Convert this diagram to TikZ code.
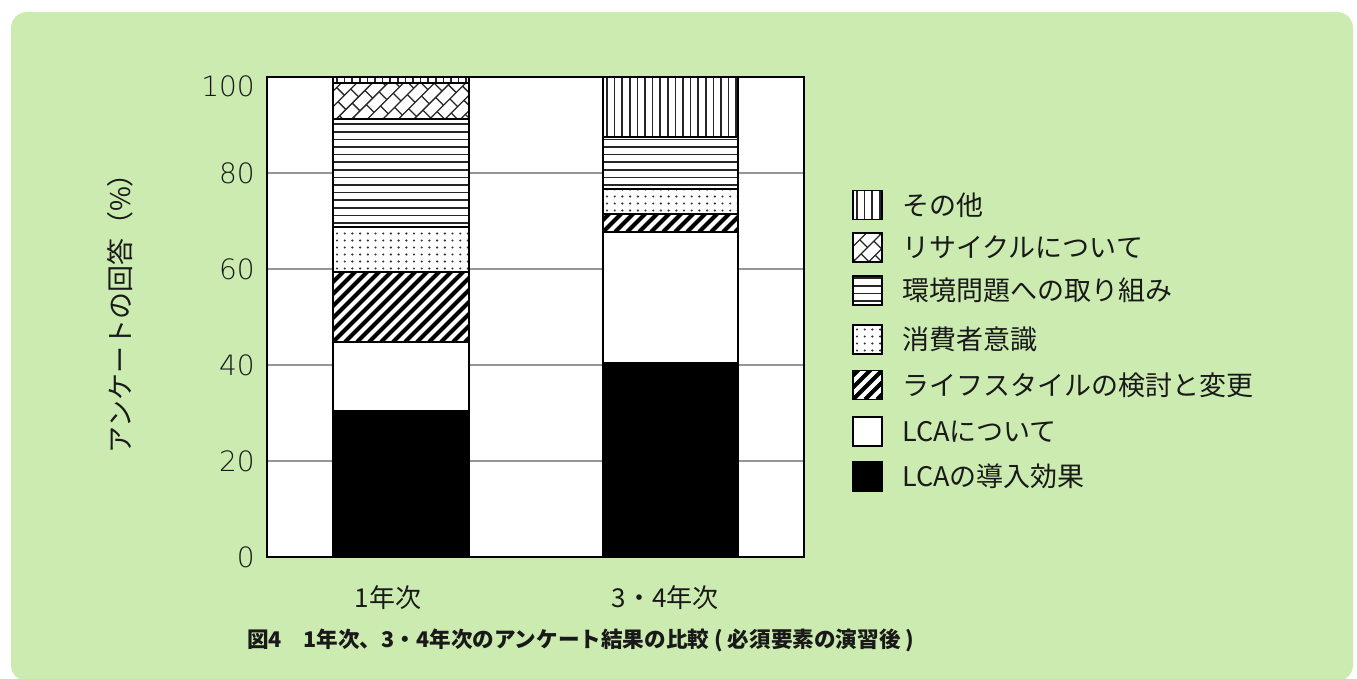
\documentclass[tikz,border=0pt]{standalone}
\usepackage{fontspec}
\setmainfont{Noto Sans CJK JP}
\newfontfamily\tickfont{DejaVu Sans ExtraLight}
\definecolor{bggreen}{RGB}{204,235,177}
\definecolor{txt}{RGB}{25,25,25}
\definecolor{gridgray}{RGB}{150,150,150}
\tikzset{
  segborder/.style={draw=black,line width=1.4pt},
  patline/.style={draw=black!85,line width=1.7pt},
  stripeline/.style={draw=black,line width=4pt},
  brickline/.style={draw=black!85,line width=1.3pt},
  dotcol/.style={fill=black!80},
  gridline/.style={draw=gridgray,line width=1.5pt},
  ticklab/.style={anchor=east,inner sep=0pt,text=txt,font=\tickfont\fontsize{28pt}{30pt}\selectfont},
  leglab/.style={anchor=west,inner sep=0pt,text=txt,font=\fontsize{27pt}{30pt}\selectfont},
  catlab/.style={inner sep=0pt,text=txt,font=\fontsize{26pt}{28pt}\selectfont},
  axtitle/.style={inner sep=0pt,text=txt,font=\fontsize{27pt}{30pt}\selectfont},
  caplab/.style={anchor=west,inner sep=0pt,text=txt,font=\bfseries\fontsize{21.6pt}{24pt}\selectfont}
}
\newcommand\segwhite[4]{\draw[segborder,fill=white] (#1,#2) rectangle (#3,#4);}
\newcommand\segblack[4]{\draw[segborder,fill=black] (#1,#2) rectangle (#3,#4);}
\newcommand\segvl[4]{%
  \fill[white] (#1,#2) rectangle (#3,#4);
  \begin{scope}
    \clip (#1,#2) rectangle (#3,#4);
    \foreach \i in {0,...,40} \draw[patline] ({#1+4+7.6*\i},#2) -- ({#1+4+7.6*\i},#4);
  \end{scope}
  \draw[segborder] (#1,#2) rectangle (#3,#4);}
\newcommand\seghl[4]{%
  \fill[white] (#1,#2) rectangle (#3,#4);
  \begin{scope}
    \clip (#1,#2) rectangle (#3,#4);
    \foreach \i in {0,...,40} \draw[patline] (#1,{#2+4+7.6*\i}) -- (#3,{#2+4+7.6*\i});
  \end{scope}
  \draw[segborder] (#1,#2) rectangle (#3,#4);}
\newcommand\segdots[4]{%
  \fill[white] (#1,#2) rectangle (#3,#4);
  \begin{scope}
    \clip (#1,#2) rectangle (#3,#4);
    \foreach \i in {0,...,18} \foreach \j in {0,...,16} \fill[dotcol] ({#1+4+7.7*\i},{#2+3.5+7.0*\j}) circle (1.2);
  \end{scope}
  \draw[segborder] (#1,#2) rectangle (#3,#4);}
\newcommand\segstripe[4]{%
  \fill[white] (#1,#2) rectangle (#3,#4);
  \begin{scope}
    \clip (#1,#2) rectangle (#3,#4);
    \foreach \i in {-25,...,15} \draw[stripeline] ({#1+12*\i},#2) -- ++(300,300);
  \end{scope}
  \draw[segborder] (#1,#2) rectangle (#3,#4);}
\newcommand\segbrick[4]{%
  \fill[white] (#1,#2) rectangle (#3,#4);
  \begin{scope}
    \clip (#1,#2) rectangle (#3,#4);
    \begin{scope}[shift={({(#1+#3)/2},{(#2+#4)/2})},rotate=45]
      \foreach \k in {-9,...,9}{
        \draw[brickline] (-110,{11*\k}) -- (110,{11*\k});
        \foreach \m in {-7,...,7}{
          \pgfmathsetmacro\uu{18*\m+9*mod(\k+20,2)}
          \draw[brickline] (\uu,{11*\k}) -- (\uu,{11*\k+11});
        }}
    \end{scope}
  \end{scope}
  \draw[segborder] (#1,#2) rectangle (#3,#4);}
\begin{document}
\begin{tikzpicture}[x=1pt,y=1pt]
  \useasboundingbox (0,0) rectangle (1357,678);
  \fill[white] (0,0) rectangle (1357,678);
  \fill[bggreen,rounded corners=16pt] (11,-3) rectangle (1353,666);
  % plot area
  \fill[white] (267,121) rectangle (804,601);
  \foreach \yy in {217,313,409,505} \draw[gridline] (267,\yy) -- (804,\yy);
  % bar 1
  \segblack{333}{121}{469}{267}
  \segwhite{333}{267}{469}{336}
  \segstripe{333}{336}{469}{406}
  \segdots{333}{406}{469}{451}
  \seghl{333}{451}{469}{559}
  \segbrick{333}{559}{469}{595}
  \segvl{333}{595}{469}{601}
  % bar 2
  \segblack{603}{121}{738}{315}
  \segwhite{603}{315}{738}{446}
  \segstripe{603}{446}{738}{464}
  \segdots{603}{464}{738}{489}
  \seghl{603}{489}{738}{541}
  \segvl{603}{541}{738}{601}
  % frame
  \draw[black,line width=1.5pt] (267,121) -- (267,601);
  \draw[black,line width=1.5pt] (804,121) -- (804,601);
  \draw[black,line width=2pt] (266.25,601) -- (804.75,601);
  \draw[black,line width=2.6pt] (266.25,121) -- (804.75,121);
  % ticks
  \node[ticklab] (t0) at (255,121) {0};
  \node[ticklab] (t20) at (255,217) {20};
  \node[ticklab] (t40) at (255,313) {40};
  \node[ticklab] (t60) at (255,409) {60};
  \node[ticklab] (t80) at (255,505) {80};
  \node[ticklab] (t100) at (255,592) {100};
  % axis title
  \node[axtitle,rotate=90] (ytitle) at (120,371) {アンケートの回答（\%）};
  % categories
  \node[catlab] (c1) at (388,80) {1年次};
  \node[catlab] (c2) at (665,80) {3・4年次};
  % legend
  \segvl{853}{458.5}{882}{487.5}
  \segbrick{853}{416}{882}{445}
  \seghl{853}{373}{882}{402}
  \segdots{853}{324}{882}{353}
  \segstripe{853}{278.5}{882}{307.5}
  \segwhite{853}{232}{882}{261}
  \segblack{853}{187}{882}{216}
  \node[leglab] (l1) at (902,473) {その他};
  \node[leglab] (l2) at (902,430.5) {リサイクルについて};
  \node[leglab] (l3) at (902,387.5) {環境問題への取り組み};
  \node[leglab] (l4) at (902,338.5) {消費者意識};
  \node[leglab] (l5) at (902,293) {ライフスタイルの検討と変更};
  \node[leglab] (l6) at (902,246.5) {LCAについて};
  \node[leglab] (l7) at (902,201.5) {LCAの導入効果};
  % caption
  \node[caplab] (cap) at (247,38) {図4　1年次、3・4年次のアンケート結果の比較 ( 必須要素の演習後 )};
\end{tikzpicture}
\end{document}
